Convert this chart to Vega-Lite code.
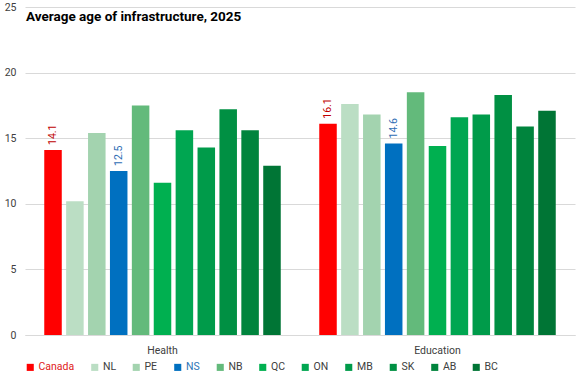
{
  "$schema": "https://vega.github.io/schema/vega-lite/v6.json",
  "width": 550,
  "height": 328,
  "autosize": {"type": "none"},
  "padding": {"left": 25, "top": 7, "right": 2, "bottom": 50},
  "background": "white",
  "config": {"view": {"stroke": null}, "font": "Roboto"},
  "title": {"text": "Average age of infrastructure,  2025", "anchor": "start", "frame": "group", "offset": -21, "font": "Roboto", "fontSize": 13.5, "fontWeight": "bold", "color": "#000000", "dx": 1},
  "data": {"values": [
    {"category": "Health", "region": "Canada", "value": 14.1},
    {"category": "Health", "region": "NL", "value": 10.2},
    {"category": "Health", "region": "PE", "value": 15.4},
    {"category": "Health", "region": "NS", "value": 12.5},
    {"category": "Health", "region": "NB", "value": 17.5},
    {"category": "Health", "region": "QC", "value": 11.6},
    {"category": "Health", "region": "ON", "value": 15.6},
    {"category": "Health", "region": "MB", "value": 14.3},
    {"category": "Health", "region": "SK", "value": 17.2},
    {"category": "Health", "region": "AB", "value": 15.6},
    {"category": "Health", "region": "BC", "value": 12.9},
    {"category": "Education", "region": "Canada", "value": 16.1},
    {"category": "Education", "region": "NL", "value": 17.6},
    {"category": "Education", "region": "PE", "value": 16.8},
    {"category": "Education", "region": "NS", "value": 14.6},
    {"category": "Education", "region": "NB", "value": 18.5},
    {"category": "Education", "region": "QC", "value": 14.4},
    {"category": "Education", "region": "ON", "value": 16.6},
    {"category": "Education", "region": "MB", "value": 16.8},
    {"category": "Education", "region": "SK", "value": 18.3},
    {"category": "Education", "region": "AB", "value": 15.9},
    {"category": "Education", "region": "BC", "value": 17.1}
  ]},
  "encoding": {
    "x": {"field": "category", "type": "nominal", "sort": ["Health", "Education"],
      "scale": {"paddingInner": 0.14, "paddingOuter": 0.07},
      "axis": {"title": null, "labelAngle": 0, "ticks": false, "domainColor": "#D9D9D9", "labelColor": "#404040", "labelFontSize": 10.5, "labelPadding": 10, "labelFont": "Roboto"}},
    "xOffset": {"field": "region", "type": "nominal", "sort": ["Canada", "NL", "PE", "NS", "NB", "QC", "ON", "MB", "SK", "AB", "BC"],
      "scale": {"paddingInner": 0.2, "paddingOuter": 0}},
    "y": {"field": "value", "type": "quantitative", "scale": {"domain": [0, 25]},
      "axis": {"title": null, "values": [0, 5, 10, 15, 20, 25], "domain": false, "ticks": false, "gridColor": "#D9D9D9", "labelColor": "#404040", "labelFontSize": 10.5, "labelPadding": 9, "labelFont": "Roboto"}}
  },
  "layer": [
    {
      "mark": {"type": "bar"},
      "encoding": {
        "color": {"field": "region", "type": "nominal",
          "scale": {"domain": ["Canada", "NL", "PE", "NS", "NB", "QC", "ON", "MB", "SK", "AB", "BC"],
            "range": ["#FF0000", "#BBDEC4", "#A3D3AF", "#0070C0", "#63BA7B", "#00B050", "#00A651", "#009B4A", "#009043", "#00843D", "#007535"]},
          "legend": {"title": null, "orient": "bottom", "direction": "horizontal", "symbolType": "square", "symbolSize": 50, "symbolStrokeWidth": 0, "labelFontSize": 10.5, "labelFont": "Roboto", "labelColor": "#404040", "columnPadding": 14.5, "labelOffset": 3, "offset": 6, "padding": 0,
            "encode": {"labels": {"update": {"fill": {"signal": "datum.label === 'Canada' ? '#E02020' : datum.label === 'NS' ? '#2E75B6' : '#404040'"}}}}}
        }
      }
    },
    {
      "transform": [{"filter": "datum.region == 'Canada' || datum.region == 'NS'"}],
      "mark": {"type": "text", "angle": 270, "align": "left", "baseline": "middle", "dx": 5, "fontSize": 10.5, "font": "Roboto"},
      "encoding": {
        "text": {"field": "value", "type": "quantitative", "format": ".1f"},
        "color": {"condition": {"test": "datum.region == 'Canada'", "value": "#C00000"}, "value": "#2E6DB4"}
      }
    }
  ]
}
